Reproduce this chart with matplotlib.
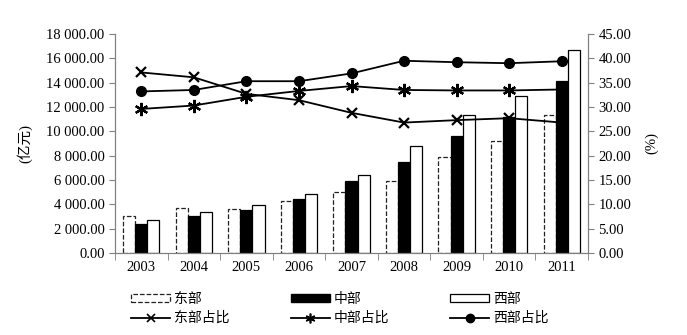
import matplotlib.pyplot as plt
import numpy as np
from matplotlib.ticker import FuncFormatter, FixedLocator
from matplotlib.patches import Patch
from matplotlib.lines import Line2D

plt.rcParams['font.family'] = ['Liberation Serif', 'Noto Sans CJK SC']

# Data
years = ['2003', '2004', '2005', '2006', '2007', '2008', '2009', '2010', '2011']
east = [3020, 3735, 3650, 4255, 4995, 5955, 7875, 9190, 11310]
central = [2420, 3075, 3570, 4475, 5900, 7465, 9605, 11140, 14130]
west = [2690, 3405, 3925, 4830, 6395, 8810, 11310, 12895, 16655]

east_pct = [37.1, 36.1, 32.7, 31.4, 28.8, 26.8, 27.3, 27.7, 26.8]
central_pct = [29.6, 30.3, 32.1, 33.3, 34.3, 33.5, 33.4, 33.4, 33.6]
west_pct = [33.2, 33.5, 35.3, 35.3, 36.9, 39.5, 39.2, 39.0, 39.4]

spine_color = '#808080'

fig = plt.figure(figsize=(6.87, 3.35), dpi=100)
ax = fig.add_axes([0.1674, 0.2448, 0.6885, 0.6537])
ax2 = ax.twinx()

x = np.arange(len(years))
w = 0.23
ax.bar(x - w, east, w, color='white', edgecolor='#222222', linestyle='--', linewidth=0.9, zorder=2)
ax.bar(x, central, w, color='black', edgecolor='black', linewidth=0.9, zorder=2)
ax.bar(x + w, west, w, color='white', edgecolor='black', linewidth=0.9, zorder=2)

ax2.plot(x, east_pct, color='black', lw=1.3, marker='x', ms=7.5, mew=1.6)
ax2.plot(x, central_pct, color='black', lw=1.3, marker=(6, 2, 0), ms=9.5, mew=1.6)
ax2.plot(x, west_pct, color='black', lw=1.3, marker='o', ms=7)

ax.set_xlim(-0.5, len(years) - 0.5)
ax.set_ylim(0, 18000)
ax.set_yticks(np.arange(0, 18001, 2000))
ax.yaxis.set_major_formatter(FuncFormatter(lambda v, p: '{:,.2f}'.format(v).replace(',', ' ')))
ax2.set_ylim(0, 45)
ax2.set_yticks(np.arange(0, 45.1, 5))
ax2.yaxis.set_major_formatter(FuncFormatter(lambda v, p: '%.2f' % v))

ax.set_xticks(x)
ax.set_xticklabels(years)
ax.xaxis.set_minor_locator(FixedLocator(np.arange(-0.5, len(years), 1)))
ax.tick_params(axis='x', which='major', length=0, pad=6, labelsize=10.5)
ax.tick_params(axis='x', which='minor', length=5, color=spine_color, direction='out')
ax.tick_params(axis='y', length=4, color=spine_color, labelsize=10.5)
ax2.tick_params(axis='y', length=4, color=spine_color, labelsize=10.5)

for a in (ax, ax2):
    a.spines['top'].set_visible(False)
    for s in ('left', 'right', 'bottom'):
        a.spines[s].set_color(spine_color)

ax.set_ylabel('(亿元)', fontsize=10.5, labelpad=10)
ax2.set_ylabel('(%)', fontsize=10.5, labelpad=10)

handles = [
    Patch(facecolor='white', edgecolor='#222222', linestyle='--', linewidth=0.9),
    Line2D([], [], color='black', lw=1.3, marker='x', ms=6, mew=1.2),
    Patch(facecolor='black', edgecolor='black'),
    Line2D([], [], color='black', lw=1.3, marker=(6, 2, 0), ms=7, mew=1.2),
    Patch(facecolor='white', edgecolor='black', linewidth=0.9),
    Line2D([], [], color='black', lw=1.3, marker='o', ms=6),
]
labels = ['东部', '东部占比', '中部', '中部占比', '西部', '西部占比']
fig.legend(handles, labels, ncol=3, loc='center', bbox_to_anchor=(0.495, 0.078),
           frameon=False, fontsize=10, handlelength=2.8, handleheight=0.5,
           columnspacing=4.4, handletextpad=0.3, labelspacing=0.45)

fig.savefig('out.png', dpi=100)
